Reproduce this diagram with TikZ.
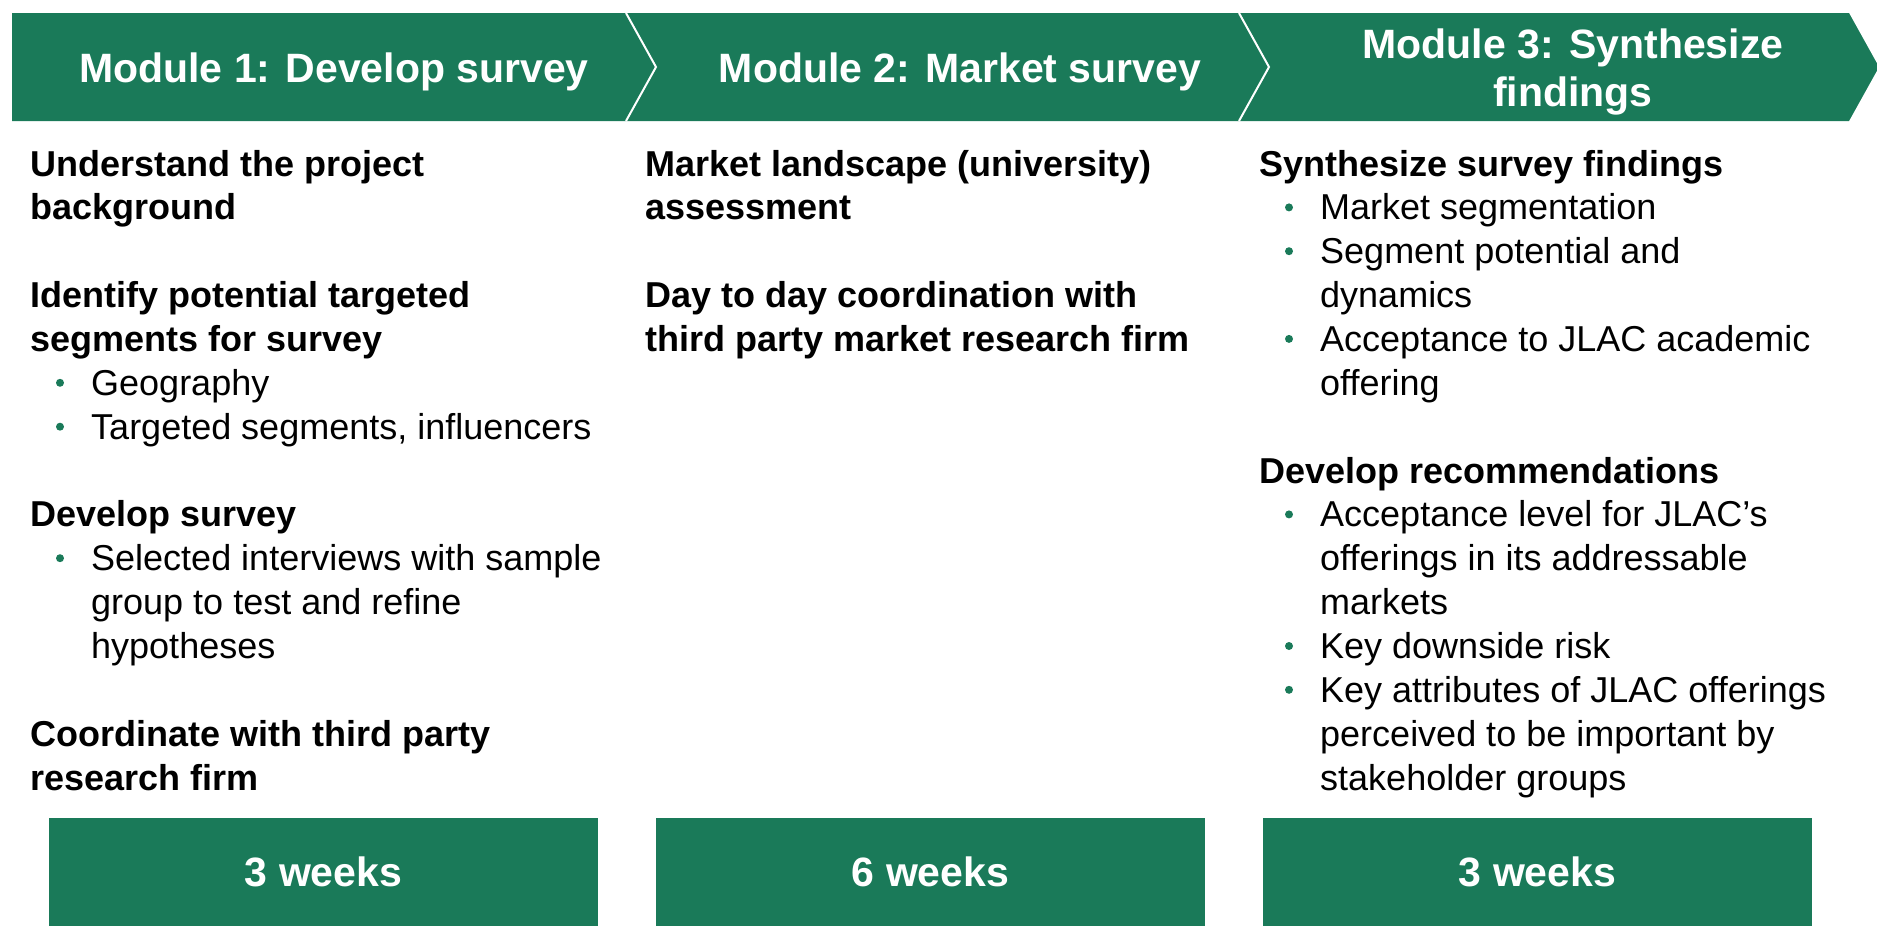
\documentclass[tikz,border=0pt]{standalone}
\usepackage{fontspec}
\setmainfont{Liberation Sans}
\definecolor{mkgreen}{RGB}{26,122,89}
\begin{document}
\begin{tikzpicture}[x=1pt,y=-1pt,
  hdr/.style={anchor=base,inner sep=0pt,text=white,font=\fontsize{41}{48}\selectfont\bfseries},
  hb/.style={anchor=base west,inner sep=0pt,font=\fontsize{36}{43}\selectfont\bfseries},
  tx/.style={anchor=base west,inner sep=0pt,font=\fontsize{36}{43}\selectfont},
  dot/.style={circle,fill=mkgreen,inner sep=0pt,minimum size=8pt},
  weekbox/.style={fill=mkgreen,inner sep=0pt,minimum width=549pt,minimum height=108pt,
    text=white,font=\fontsize{41}{48}\selectfont\bfseries},
  sep/.style={draw=white,line width=2pt,line join=miter}]
\useasboundingbox (0,0) rectangle (1877,926);

% header chevrons
\fill[mkgreen] (12,13) -- (626,13) -- (656,67) -- (626,121) -- (12,121) -- cycle;
\fill[mkgreen] (626,13) -- (1239,13) -- (1269,67) -- (1239,121) -- (626,121) -- (656,67) -- cycle;
\fill[mkgreen] (1239,13) -- (1849,13) -- (1879,67) -- (1849,121) -- (1239,121) -- (1269,67) -- cycle;
\draw[sep] (626,13) -- (656,67) -- (626,121);
\draw[sep] (1239,13) -- (1269,67) -- (1239,121);

\node[hdr] (m1) at (334,82) {Module 1: Develop survey};
\node[hdr] (m2) at (960,82) {Module 2: Market survey};
\node[hdr] (m3a) at (1573,58) {Module 3: Synthesize};
\node[hdr] (m3b) at (1573,106) {findings};

% column 1
\node[hb] (a0) at (30,176) {Understand the project};
\node[hb] (a1) at (30,219.9) {background};
\node[hb] (a3) at (30,307.6) {Identify potential targeted};
\node[hb] (a4) at (30,351.4) {segments for survey};
\node[dot] (a5d) at (60,382.8) {};
\node[tx] (a5) at (91,395.3) {Geography};
\node[dot] (a6d) at (60,426.7) {};
\node[tx] (a6) at (91,439.2) {Targeted segments, influencers};
\node[hb] (a8) at (30,526.9) {Develop survey};
\node[dot] (a9d) at (60,558.2) {};
\node[tx] (a9) at (91,570.7) {Selected interviews with sample};
\node[tx] (a10) at (91,614.6) {group to test and refine};
\node[tx] (a11) at (91,658.5) {hypotheses};
\node[hb] (a13) at (30,746.2) {Coordinate with third party};
\node[hb] (a14) at (30,790) {research firm};

% column 2
\node[hb] (b0) at (645,176) {Market landscape (university)};
\node[hb] (b1) at (645,219.9) {assessment};
\node[hb] (b3) at (645,307.6) {Day to day coordination with};
\node[hb] (b4) at (645,351.4) {third party market research firm};

% column 3
\node[hb] (c0) at (1259,176) {Synthesize survey findings};
\node[dot] (c1d) at (1289,207.4) {};
\node[tx] (c1) at (1320,219.9) {Market segmentation};
\node[dot] (c2d) at (1289,251.2) {};
\node[tx] (c2) at (1320,263.7) {Segment potential and};
\node[tx] (c3) at (1320,307.6) {dynamics};
\node[dot] (c4d) at (1289,338.9) {};
\node[tx] (c4) at (1320,351.4) {Acceptance to JLAC academic};
\node[tx] (c5) at (1320,395.3) {offering};
\node[hb] (c7) at (1259,483) {Develop recommendations};
\node[dot] (c8d) at (1289,514.4) {};
\node[tx] (c8) at (1320,526.9) {Acceptance level for JLAC’s};
\node[tx] (c9) at (1320,570.7) {offerings in its addressable};
\node[tx] (c10) at (1320,614.6) {markets};
\node[dot] (c11d) at (1289,646) {};
\node[tx] (c11) at (1320,658.5) {Key downside risk};
\node[dot] (c12d) at (1289,689.8) {};
\node[tx] (c12) at (1320,702.3) {Key attributes of JLAC offerings};
\node[tx] (c13) at (1320,746.2) {perceived to be important by};
\node[tx] (c14) at (1320,790) {stakeholder groups};

% duration boxes
\node[weekbox] (w1) at (323.5,872) {3 weeks};
\node[weekbox] (w2) at (930.5,872) {6 weeks};
\node[weekbox] (w3) at (1537.5,872) {3 weeks};
\end{tikzpicture}
\end{document}
